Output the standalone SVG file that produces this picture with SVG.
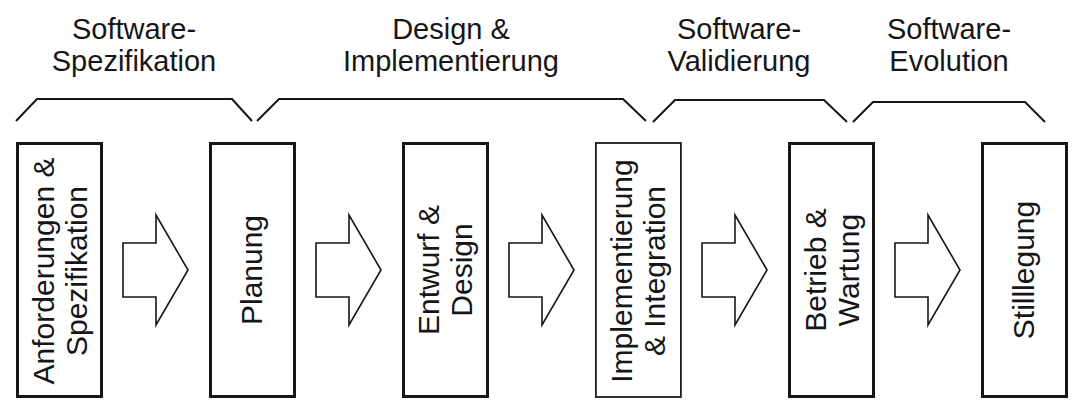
<svg xmlns="http://www.w3.org/2000/svg" width="1079" height="407" viewBox="0 0 1079 407">
<style>
text{font-family:"Liberation Sans",Arial,sans-serif;font-size:29px;fill:#161616}
.hdr{text-anchor:middle}
.lbl{text-anchor:middle;font-size:30px}
.box{fill:#fff;stroke:#161616;stroke-width:3}
.box.thin{stroke:#1c1c1c;stroke-width:1.8}
.brk{fill:none;stroke:#161616;stroke-width:2;stroke-linejoin:miter}
.arr{fill:#fff;stroke:#161616;stroke-width:1.6;stroke-linejoin:miter}
</style>
<rect width="1079" height="407" fill="#fff"/>
<g id="phases">
<g id="phase-spezifikation">
<path class="brk" d="M16,121 L37,99 L232,99 L252,121"/>
<text class="hdr" x="134" y="39">Software-</text>
<text class="hdr" x="134" y="71">Spezifikation</text>
</g>
<g id="phase-design">
<path class="brk" d="M257,121 L279,99 L623,99 L646,121"/>
<text class="hdr" x="451" y="39">Design &amp;</text>
<text class="hdr" x="451" y="71">Implementierung</text>
</g>
<g id="phase-validierung">
<path class="brk" d="M653,122 L675,100 L824,100 L847,122"/>
<text class="hdr" x="739" y="39">Software-</text>
<text class="hdr" x="739" y="71">Validierung</text>
</g>
<g id="phase-evolution">
<path class="brk" d="M853,122 L873,102 L1025,102 L1045,122"/>
<text class="hdr" x="949" y="39">Software-</text>
<text class="hdr" x="949" y="71">Evolution</text>
</g>
</g>
<g id="connectors">
<path class="arr" d="M123,243 H156 V215 L188,270 L156,325 V297 H123 Z"/>
<path class="arr" d="M316,243 H349 V215 L381,270 L349,325 V297 H316 Z"/>
<path class="arr" d="M509,243 H542 V215 L574,270 L542,325 V297 H509 Z"/>
<path class="arr" d="M702,243 H735 V215 L767,270 L735,325 V297 H702 Z"/>
<path class="arr" d="M895,243 H928 V215 L960,270 L928,325 V297 H895 Z"/>
</g>
<g id="node-anforderungen">
<rect class="box" x="17.5" y="143.5" width="84" height="253"/>
<g transform="translate(59.5,271) rotate(-90)">
<text class="lbl" x="0" y="-6">Anforderungen &amp;</text>
<text class="lbl" x="0" y="27">Spezifikation</text>
</g>
</g>
<g id="node-planung">
<rect class="box" x="210.5" y="143.5" width="84" height="253"/>
<g transform="translate(252.5,270) rotate(-90)">
<text class="lbl" x="0" y="9.5">Planung</text>
</g>
</g>
<g id="node-entwurf">
<rect class="box" x="403.5" y="143.5" width="84" height="253"/>
<g transform="translate(445.5,270) rotate(-90)">
<text class="lbl" x="0" y="-7">Entwurf &amp;</text>
<text class="lbl" x="0" y="26">Design</text>
</g>
</g>
<g id="node-implementierung">
<rect class="box thin" x="595.9" y="143" width="85" height="254"/>
<g transform="translate(638,271) rotate(-90)">
<text class="lbl" x="0" y="-6">Implementierung</text>
<text class="lbl" x="0" y="27">&amp; Integration</text>
</g>
</g>
<g id="node-betrieb">
<rect class="box" x="789.5" y="143.5" width="84" height="253"/>
<g transform="translate(831.5,270) rotate(-90)">
<text class="lbl" x="0" y="-6">Betrieb &amp;</text>
<text class="lbl" x="0" y="27">Wartung</text>
</g>
</g>
<g id="node-stilllegung">
<rect class="box" x="982.5" y="143.5" width="84" height="253"/>
<g transform="translate(1024.5,270) rotate(-90)">
<text class="lbl" x="0" y="9.5">Stilllegung</text>
</g>
</g>
</svg>
